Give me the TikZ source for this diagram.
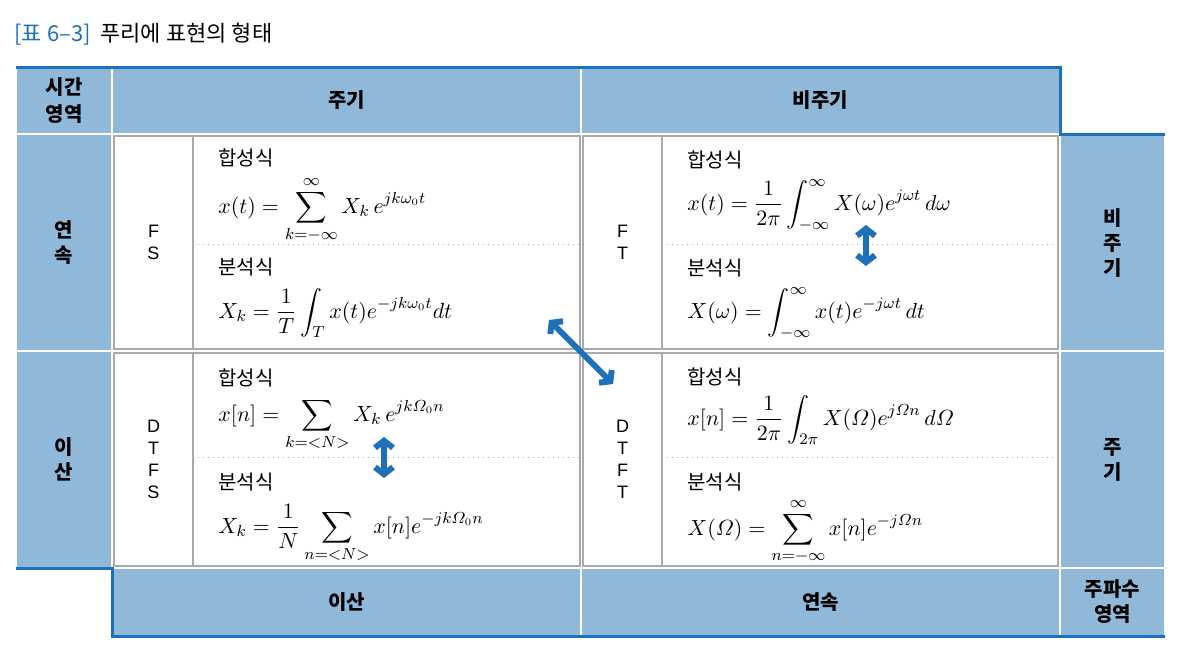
\documentclass[tikz,border=0pt]{standalone}
\usepackage{amsmath}
\usepackage{fontspec}
\setmainfont{Noto Sans CJK KR}
\newfontfamily\tagfont{Liberation Sans}
\usetikzlibrary{arrows.meta, positioning}
\definecolor{hblue}{RGB}{143,184,217}
\definecolor{lblue}{RGB}{30,112,184}
\definecolor{rulegray}{RGB}{170,170,170}
\tikzset{
  hdr/.style     = {rectangle, draw=white, line width=0.7pt, fill=hblue,
                    align=center, inner sep=0pt, outer sep=0pt,
                    font=\bfseries\fontsize{10}{12.5}\selectfont},
  cell/.style    = {rectangle, draw=rulegray, line width=0.8pt,
                    inner sep=0pt, outer sep=0pt},
  tagcell/.style = {cell, line width=0.6pt, align=center,
                    font=\tagfont\fontsize{9}{11}\selectfont},
  lbl/.style     = {anchor=west, inner sep=0pt,
                    font=\fontsize{10}{12}\selectfont},
  eqn/.style     = {anchor=base west, inner sep=0pt,
                    font=\fontsize{11}{12}\selectfont},
  edge/.style    = {draw=lblue, line width=1.5pt},
  divider/.style = {draw=rulegray, line width=0.5pt, dotted},
  dbl/.style     = {{Straight Barb[length=3.5pt, width=9pt]}-{Straight Barb[length=3.5pt, width=9pt]},
                    draw=lblue, line width=3pt},
}

\begin{document}
\begin{tikzpicture}[x=0.5pt, y=-0.5pt]
    \useasboundingbox (0,0) rectangle (1182,654);

    % ── Title ─────────────────────────────────────────────────────
    \node[lbl, font=\fontsize{11}{13}\selectfont] (title) at (14,34)
      {\textcolor{lblue}{[표 6–3]}\ \ 푸리에\ 표현의\ 형태};

    % ── Header row ────────────────────────────────────────────────
    \node[hdr, minimum width=48pt, minimum height=33.5pt,
          font=\bfseries\fontsize{10}{13.5}\selectfont] (corner) at (64,100.5)
      {시간\\영역};
    \node[hdr, minimum width=234.5pt, minimum height=33.5pt] (hper) at (346.5,100.5) {주기};
    \node[hdr, minimum width=239.5pt, minimum height=33.5pt] (hnon) at (820.5,100.5) {비주기};

    % ── Left column: time domain ──────────────────────────────────
    \node[hdr, minimum width=48pt, minimum height=108.5pt] (tcont) at (64,242.5) {연\\속};
    \node[hdr, minimum width=48pt, minimum height=108.5pt] (tdisc) at (64,459.5) {이\\산};

    % ── Right column and bottom row: frequency domain ─────────────
    \node[hdr, minimum width=52.5pt, minimum height=108.5pt] (fnon) at (1112.5,242.5) {비\\주\\기};
    \node[hdr, minimum width=52.5pt, minimum height=108.5pt] (fper) at (1112.5,459.5) {주\\기};
    \node[hdr, minimum width=52.5pt, minimum height=34pt] (fcorner) at (1112.5,602) {주파수\\영역};
    \node[hdr, minimum width=234.5pt, minimum height=34pt] (bdisc) at (346.5,602) {이산};
    \node[hdr, minimum width=239.5pt, minimum height=34pt] (bcont) at (820.5,602) {연속};

    % ── Cells ─────────────────────────────────────────────────────
    \node[cell, minimum width=233pt, minimum height=106.5pt] (fs) at (347,242.5) {};
    \node[tagcell, minimum width=39.5pt, minimum height=106.5pt] (fstag) at (153.5,242.5) {F\\S};
    \node[cell, minimum width=237.5pt, minimum height=106.5pt] (ft) at (820.5,242.5) {};
    \node[tagcell, minimum width=39.5pt, minimum height=106.5pt] (fttag) at (622.5,242.5) {F\\T};
    \node[cell, minimum width=233pt, minimum height=106.5pt] (dtfs) at (347,459.5) {};
    \node[tagcell, minimum width=39.5pt, minimum height=106.5pt] (dtfstag) at (153.5,459.5) {D\\T\\F\\S};
    \node[cell, minimum width=237.5pt, minimum height=106.5pt] (dtft) at (820.5,459.5) {};
    \node[tagcell, minimum width=39.5pt, minimum height=106.5pt] (dtfttag) at (622.5,459.5) {D\\T\\F\\T};

    \draw[divider] ([yshift=-1.2pt]fstag.east)   -- ([yshift=-1.2pt]fs.east);
    \draw[divider] ([yshift=-1.2pt]fttag.east)   -- ([yshift=-1.2pt]ft.east);
    \draw[divider] ([yshift=1.2pt]dtfstag.east) -- ([yshift=1.2pt]dtfs.east);
    \draw[divider] ([yshift=1.2pt]dtfttag.east) -- ([yshift=1.2pt]dtft.east);

    % ── FS ────────────────────────────────────────────────────────
    \node[lbl] (fssyn) at (218,158) {합성식};
    \node[eqn] (fssyneq) at (218,213)
      {$\displaystyle x(t) = \sum_{k=-\infty}^{\infty} X_k\, e^{jk\omega_0 t}$};
    \node[lbl] (fsana) at (218,267) {분석식};
    \node[eqn] (fsanaeq) at (218,318)
      {$\displaystyle X_k = \frac{1}{T}\int_T x(t)e^{-jk\omega_0 t}dt$};

    % ── FT ────────────────────────────────────────────────────────
    \node[lbl] (ftsyn) at (687,160) {합성식};
    \node[eqn] (ftsyneq) at (687,210)
      {$\displaystyle x(t) = \frac{1}{2\pi}\int_{-\infty}^{\infty} X(\omega)e^{j\omega t}\,d\omega$};
    \node[lbl] (ftana) at (687,268) {분석식};
    \node[eqn] (ftanaeq) at (687,318)
      {$\displaystyle X(\omega) = \int_{-\infty}^{\infty} x(t)e^{-j\omega t}\,dt$};

    % ── DTFS ──────────────────────────────────────────────────────
    \node[lbl] (dtfssyn) at (218,378) {합성식};
    \node[eqn] (dtfssyneq) at (218,421)
      {$\displaystyle x[n] = \sum_{k=<N>} X_k\, e^{jk\varOmega_0 n}$};
    \node[lbl] (dtfsana) at (218,482) {분석식};
    \node[eqn] (dtfsanaeq) at (218,533)
      {$\displaystyle X_k = \frac{1}{N}\sum_{n=<N>} x[n]e^{-jk\varOmega_0 n}$};

    % ── DTFT ──────────────────────────────────────────────────────
    \node[lbl] (dtftsyn) at (687,377) {합성식};
    \node[eqn] (dtftsyneq) at (687,425)
      {$\displaystyle x[n] = \frac{1}{2\pi}\int_{2\pi} X(\varOmega)e^{j\varOmega n}\,d\varOmega$};
    \node[lbl] (dtftana) at (687,482) {분석식};
    \node[eqn] (dtftanaeq) at (687,535)
      {$\displaystyle X(\varOmega) = \sum_{n=-\infty}^{\infty} x[n]e^{-j\varOmega n}$};

    % ── Blue outline ──────────────────────────────────────────────
    \draw[edge] (corner.north west) -- (hnon.north east) -- (hnon.south east)
                -- (fnon.north east);
    \draw[edge] (tdisc.south west) -- (tdisc.south east) -- (bdisc.south west)
                -- (fcorner.south east);

    % ── Arrows ────────────────────────────────────────────────────
    \coordinate (fttop)   at (866,225);
    \coordinate (ftbot)   at (866,266);
    \coordinate (dtfstop) at (384,437);
    \coordinate (dtfsbot) at (384,478);
    \coordinate (diagfs)  at (549,320);
    \coordinate (diagdt)  at (613,384);
    \draw[dbl] (fttop)   -- (ftbot);
    \draw[dbl] (dtfstop) -- (dtfsbot);
    \draw[dbl] (diagfs)  -- (diagdt);

\end{tikzpicture}
\end{document}
